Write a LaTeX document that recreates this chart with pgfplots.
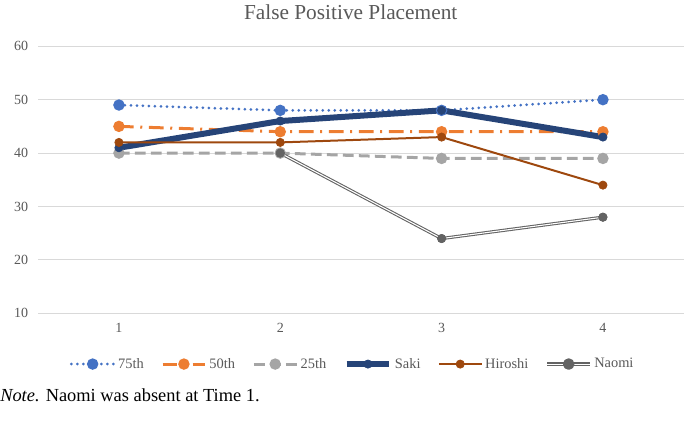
\documentclass[border=0pt]{standalone}
\usepackage{fontspec}
\setmainfont{Liberation Serif}
\usepackage{pgfplots}
\pgfplotsset{compat=1.18}

\definecolor{c75}{HTML}{4472C4}
\definecolor{c50}{HTML}{ED7D31}
\definecolor{c25}{HTML}{A5A5A5}
\definecolor{saki}{HTML}{264478}
\definecolor{hiro}{HTML}{9E480E}
\definecolor{naomi}{HTML}{636363}
\definecolor{gridc}{HTML}{D9D9D9}
\definecolor{txt}{HTML}{595959}

\begin{document}
\begin{tikzpicture}[x=1pt,y=1pt]
\useasboundingbox (0,0) rectangle (513.75,321);
\begin{axis}[
    at={(28.7pt,86pt)}, anchor=south west,
    scale only axis, width=484pt, height=200.3pt,
    xmin=0.5, xmax=4.5, ymin=10, ymax=60,
    xtick={1,2,3,4}, ytick={10,20,30,40,50,60},
    axis line style={draw=none},
    major tick length=0pt,
    ymajorgrids, grid style={gridc, line width=0.75pt},
    tick label style={font=\fontsize{10.5}{12}\selectfont, text=txt},
    /pgf/number format/assume math mode=true,
    xticklabel style={yshift=-4pt},
    yticklabel style={xshift=-4pt},
    legend columns=6,
    legend style={at={(0.4877,-0.19)}, anchor=center, draw=none,
        font=\fontsize{10.8}{12}\selectfont, text=txt,
        nodes={inner xsep=2pt},
        /tikz/every even column/.append style={column sep=11pt}},
    legend image code/.code={\draw[mark repeat=2,mark phase=2]
        plot coordinates {(0pt,0pt) (16pt,0pt) (32pt,0pt)};},
    every axis plot/.append style={mark=*, mark size=3.1pt},
]
\addplot[c75, line width=2.25pt, line cap=round, dash pattern=on 0pt off 4.5pt,
    mark options={solid, fill=c75}]
    coordinates {(1,49) (2,48) (3,48) (4,50)};
\addlegendentry{75th}
\addplot[c50, line width=2.25pt, dash pattern=on 11pt off 5pt on 1.5pt off 5pt,
    mark options={solid, fill=c50}]
    coordinates {(1,45) (2,44) (3,44) (4,44)};
\addlegendentry{50th}
\addplot[c25, line width=2.25pt, dash pattern=on 8pt off 4pt,
    mark options={solid, fill=c25}]
    coordinates {(1,40) (2,40) (3,39) (4,39)};
\addlegendentry{25th}
\addplot[saki, line width=4.5pt, line join=round,
    mark options={solid, fill=saki, line width=0.5pt}]
    coordinates {(1,41) (2,46) (3,48) (4,43)};
\addlegendentry{Saki}
\addplot[hiro, line width=1.5pt,
    mark options={solid, fill=hiro, line width=0.5pt}]
    coordinates {(1,42) (2,42) (3,43) (4,34)};
\addlegendentry{Hiroshi}
\addplot[naomi, line width=2.4pt, line join=round,
    mark options={solid, fill=naomi, line width=0.5pt},
    legend image code/.code={
        \draw[naomi, line width=2.4pt] (0pt,0pt) -- (32pt,0pt);
        \draw[white, line width=0.8pt] (0pt,0pt) -- (32pt,0pt);
        \fill[naomi] (16pt,0pt) circle (3.1pt);}]
    coordinates {(2,40) (3,24) (4,28)};
\addlegendentry{Naomi}
\addplot[white, line width=0.8pt, line join=round, mark=none, forget plot]
    coordinates {(2,40) (3,24) (4,28)};
\addplot[only marks, mark options={fill=naomi, draw=naomi, line width=0.5pt}, forget plot]
    coordinates {(2,40) (3,24) (4,28)};
\end{axis}
\node[font=\fontsize{16}{18}\selectfont, text=txt] at (263,312) {False Positive Placement};
\node[anchor=west, font=\fontsize{13.8}{16}\selectfont, inner sep=0pt] at (0,24.75)
    {\textit{Note.} Naomi was absent at Time 1.};
\end{tikzpicture}
\end{document}
